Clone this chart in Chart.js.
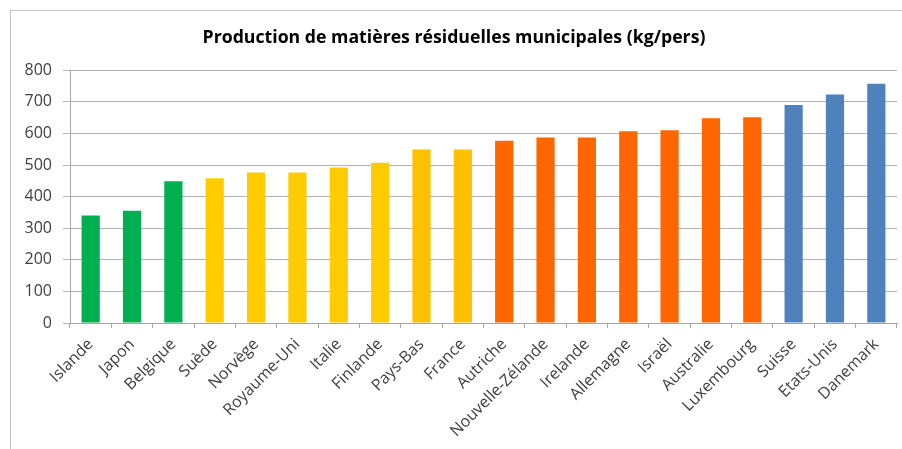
<!DOCTYPE html>
<html>
<head>
<meta charset="utf-8">
<script src="https://cdn.jsdelivr.net/npm/chart.js@4.4.1/dist/chart.umd.min.js"></script>
<style>
    body { margin: 0; background: #fff; }
    #frame {
        position: absolute; left: 10px; top: 10px;
        width: 892px; height: 439px;
        border-left: 1px solid #c4c4c4; border-top: 1px solid #c4c4c4;
    }
    #frame canvas { display: block; }
</style>
</head>
<body>
<div id="frame"><canvas id="dechets" width="891" height="438"></canvas></div>
<script>
// pays, du plus petit au plus grand producteur
var pays = ['Islande', 'Japon', 'Belgique', 'Suède', 'Norvège', 'Royaume-Uni', 'Italie', 'Finlande',
    'Pays-Bas', 'France', 'Autriche', 'Nouvelle-Zélande', 'Irelande', 'Allemagne', 'Israël',
    'Australie', 'Luxembourg', 'Suisse', 'Etats-Unis', 'Danemark'];
var kgParPers = [340, 355, 449, 458, 476, 476, 492, 507, 549, 549, 577, 587, 587, 607, 610,
    648, 651, 690, 723, 757];
var groupe = ['vert', 'vert', 'vert', 'jaune', 'jaune', 'jaune', 'jaune', 'jaune', 'jaune2', 'jaune2',
    'orange', 'orange', 'orange', 'orange', 'orange', 'orange', 'orange', 'bleu', 'bleu', 'bleu'];
var yTicks = [0, 100, 200, 300, 400, 500, 600, 700, 800];

var couleurs = {
    vert: '#00b050',
    jaune: '#ffcc00',
    jaune2: '#ffc000',
    orange: '#ff6600',
    bleu: '#4f81bd'
};

var txt = '#404040';
var police = '"Open Sans", Lato, sans-serif';

var ctx = document.getElementById('dechets');
var chart = new Chart(ctx, {
    type: 'bar',
    data: {
        labels: pays,
        datasets: [{
            data: kgParPers,
            backgroundColor: groupe.map(function(g) { return couleurs[g]; }),
            borderWidth: 0,
            barPercentage: 0.44,
            categoryPercentage: 1
        }]
    },
    options: {
        responsive: false,
        animation: false,
        layout: { padding: { left: 0, right: 5, top: 0, bottom: 0 } },
        plugins: {
            legend: { display: false },
            tooltip: { enabled: false },
            title: {
                display: true,
                text: 'Production de matières résiduelles municipales (kg/pers)',
                color: '#000',
                font: { family: police, size: 17.7, weight: 'bold' },
                padding: { top: 16, bottom: 22 }
            }
        },
        scales: {
            x: {
                grid: {
                    drawOnChartArea: false,
                    drawTicks: true,
                    tickLength: 5,
                    color: '#a6a6a6',
                    offset: true
                },
                border: { color: '#a6a6a6' },
                ticks: {
                    color: txt,
                    font: { family: police, size: 16 },
                    minRotation: 45,
                    maxRotation: 45,
                    autoSkip: false,
                    padding: 7
                },
                afterFit: function(scale) { scale.height = 126; }
            },
            y: {
                min: 0,
                max: 800,
                afterBuildTicks: function(scale) {
                    scale.ticks = yTicks.map(function(v) { return { value: v }; });
                },
                grid: {
                    color: '#b3b3b3',
                    tickLength: 7,
                    drawTicks: true
                },
                border: { color: '#a6a6a6' },
                ticks: {
                    color: txt,
                    font: { family: police, size: 16 },
                    padding: 11
                },
                afterFit: function(scale) { scale.width = 59; }
            }
        }
    }
});
</script>
</body>
</html>
